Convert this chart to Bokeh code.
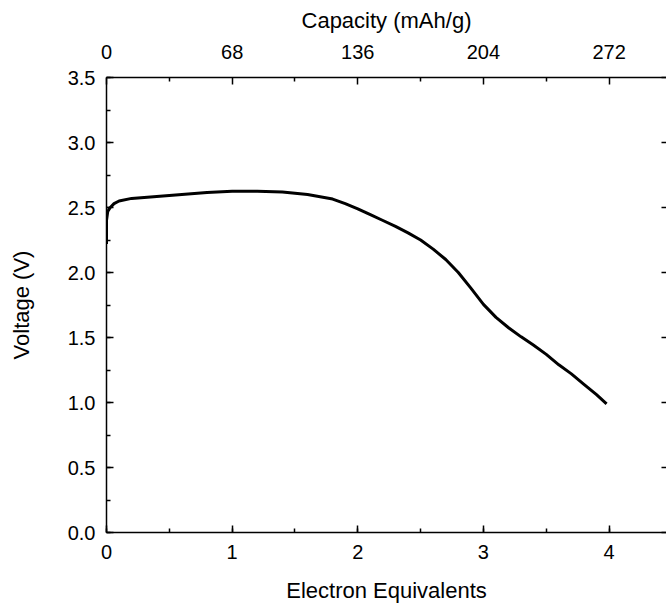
from bokeh.plotting import figure
from bokeh.models import (Range1d, LinearAxis, FixedTicker, SingleIntervalTicker,
                          PrintfTickFormatter, CustomJSTickFormatter)
from bokeh.embed import file_html
from bokeh.resources import INLINE

# --- data ---
electron_eq = [0.0, 0.0, 0.01, 0.03, 0.06, 0.1, 0.2, 0.4, 0.6, 0.8, 1.0, 1.2, 1.4,
               1.6, 1.8, 1.9, 2.0, 2.1, 2.2, 2.3, 2.4, 2.5, 2.6, 2.7, 2.8, 2.9,
               3.0, 3.1, 3.2, 3.3, 3.4, 3.5, 3.6, 3.7, 3.8, 3.9, 3.98]
voltage = [2.22, 2.40, 2.47, 2.50, 2.53, 2.55, 2.57, 2.585, 2.60, 2.615, 2.625,
           2.625, 2.62, 2.60, 2.565, 2.53, 2.49, 2.445, 2.40, 2.355, 2.305,
           2.25, 2.18, 2.10, 2.00, 1.88, 1.755, 1.655, 1.575, 1.505, 1.44,
           1.37, 1.29, 1.22, 1.14, 1.06, 0.99]
capacity_per_electron = 68
capacity_ticks = [0, 68, 136, 204, 272]
capacity_minor = [34, 102, 170, 238]

X_END = 4.457
FONT = "Liberation Sans"

p = figure(width=666, height=605, output_backend="svg", toolbar_location=None,
           x_range=Range1d(0, X_END), y_range=Range1d(0, 3.5),
           min_border_left=106, min_border_right=0, min_border_top=77,
           min_border_bottom=73)
p.extra_x_ranges = {"cap": Range1d(0, X_END * capacity_per_electron)}
p.grid.visible = False
p.outline_line_color = None
p.background_fill_color = "white"
p.border_fill_color = "white"

p.line(electron_eq, voltage, line_width=3, line_color="black")


def style(ax, standoff, title_standoff):
    ax.axis_line_width = 1.5
    ax.axis_line_color = "black"
    ax.major_tick_line_width = 1.5
    ax.minor_tick_line_width = 1.5
    ax.major_tick_line_color = "black"
    ax.minor_tick_line_color = "black"
    ax.major_tick_in = 7
    ax.major_tick_out = 0
    ax.minor_tick_in = 4
    ax.minor_tick_out = 0
    ax.major_label_text_font = FONT
    ax.major_label_text_font_size = "20px"
    ax.major_label_text_color = "black"
    ax.major_label_standoff = standoff
    ax.axis_label_text_font = FONT
    ax.axis_label_text_font_size = "22px"
    ax.axis_label_text_font_style = "normal"
    ax.axis_label_text_color = "black"
    ax.axis_label_standoff = title_standoff


xa = p.xaxis[0]
xa.ticker = SingleIntervalTicker(interval=1, num_minor_ticks=2)
xa.axis_label = "Electron Equivalents"
style(xa, 12, 16)

ya = p.yaxis[0]
ya.ticker = SingleIntervalTicker(interval=0.5, num_minor_ticks=2)
ya.formatter = PrintfTickFormatter(format="%.1f")
ya.axis_label = "Voltage (V)"
style(ya, 11, 31)

top = LinearAxis(x_range_name="cap", axis_label="Capacity (mAh/g)",
                 ticker=FixedTicker(ticks=capacity_ticks, minor_ticks=capacity_minor))
style(top, 19, 9)
p.add_layout(top, "above")

# right axis: only its inward major ticks show at the right edge of the picture
right = LinearAxis(ticker=SingleIntervalTicker(interval=0.5, num_minor_ticks=0),
                   formatter=CustomJSTickFormatter(code="return ''"))
style(right, 0, 0)
right.axis_line_color = None
right.major_tick_in = 5
right.minor_tick_in = 0
p.add_layout(right, "right")

open("out.html", "w").write(file_html(p, INLINE))
